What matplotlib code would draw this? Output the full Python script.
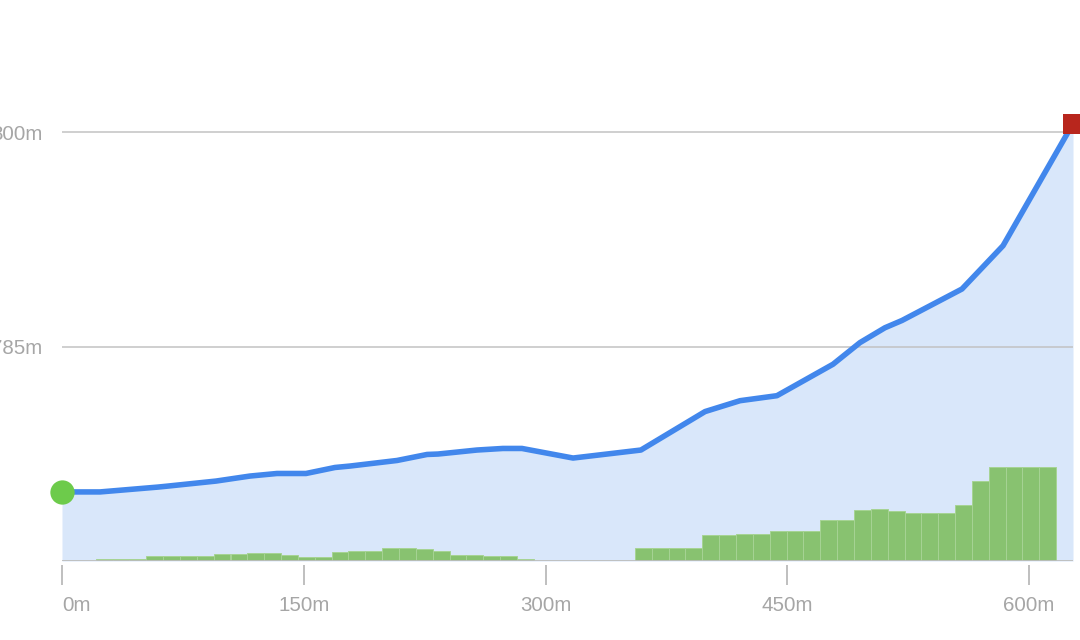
import matplotlib
matplotlib.use("Agg")
import matplotlib.pyplot as plt
import numpy as np

# ---- data ----
dist_m = [0, 23.6, 59.6, 65.8, 95.6, 116.6, 133.4, 151.4, 169.4, 178.7, 207.9,
          226.5, 233.3, 257.5, 273.6, 285.4, 317.1, 359.2, 399.0, 420.7, 443.6,
          478.4, 495.1, 510.6, 521.2, 558.4, 583.9, 627.3]
elev_m = [774.83, 774.83, 775.17, 775.24, 775.59, 775.94, 776.12, 776.12, 776.54,
          776.64, 777.03, 777.45, 777.48, 777.76, 777.87, 777.87, 777.20, 777.76,
          780.45, 781.21, 781.56, 783.76, 785.27, 786.31, 786.82, 789.02, 792.05,
          800.59]
grade = [0, 0, 0.4, 0.4, 0.4, 1.1, 1.1, 1.1, 1.1, 1.4, 1.4, 1.6, 1.6, 1.3, 0.8,
         0.8, 1.8, 2.0, 2.0, 2.6, 2.6, 2.4, 2.0, 1.2, 1.2, 1.0, 1.0, 0.4,
         0, 0, 0, 0, 0, 0,
         2.6, 2.6, 2.6, 2.6, 5.2, 5.2, 5.5, 5.5, 6.0, 6.0, 6.0, 8.2, 8.2, 10.2,
         10.4, 10.0, 9.6, 9.6, 9.6, 11.3, 16.0, 18.9, 18.9, 18.9, 18.9, 0]
x_ticks = [0, 150, 300, 450, 600]
x_tick_labels = ["0m", "150m", "300m", "450m", "600m"]
y_ticks = [785, 800]
y_tick_labels = ["785m", "800m"]
y_base = 770

# ---- style ----
plt.rcParams['font.family'] = ['Liberation Sans', 'DejaVu Sans']
LINE = '#4287ec'
FILL = '#d9e7fa'
BAR = '#88c270'
GRID = '#c2c2c2'
TXT = '#a6a6a6'

W, H = 1080, 640
fig = plt.figure(figsize=(W / 100, H / 100), dpi=100)
ax = fig.add_axes([62 / W, 79 / H, 1011 / W, 561 / H])
ax2 = ax.twinx()
ax.set_zorder(2)
ax2.set_zorder(1)
ax.patch.set_visible(False)

total = dist_m[-1]
ax.set_xlim(0, total)
ax.set_ylim(y_base, y_base + 561 / 14.3)

# grade bars on a secondary (hidden) axis
nb = len(grade)
bw = total / nb
centers = [bw * (i + 0.5) for i in range(nb)]
ax2.bar(centers, grade, width=bw, color=BAR, edgecolor='#a6d394', linewidth=0.7,
        zorder=3)
ax2.set_ylim(0, 561 / 5)
ax2.set_xlim(0, total)
ax2.axis('off')

# area fill + gridlines behind the bars
ax2.fill_between(dist_m, [(e - y_base) * 14.3 / 5 for e in elev_m], 0,
                 color=FILL, linewidth=0, zorder=1)
for y in y_ticks:
    ax2.axhline((y - y_base) * 14.3 / 5, color=GRID, lw=1.1, zorder=2)

ax.plot(dist_m, elev_m, color=LINE, lw=4.0, solid_joinstyle='round', zorder=4)
ax.axhline(y_base, color='#bdbdbd', lw=1.3, zorder=5)
ax.plot([dist_m[0]], [elev_m[0]], 'o', color='#6dcb4b', markersize=17.5,
        markeredgewidth=0, clip_on=False, zorder=6)
ax.plot([dist_m[-1]], [elev_m[-1]], 's', color='#b8261d', markersize=13.7,
        markeredgewidth=0, clip_on=False, zorder=6)

for s in ax.spines.values():
    s.set_visible(False)
ax.spines['bottom'].set_position(('outward', 3))

ax.set_xticks(x_ticks, x_tick_labels)
ax.set_yticks(y_ticks, y_tick_labels)
ax.tick_params(axis='x', length=14.4, width=1.2, color='#b4b4b4', labelsize=14.8,
               labelcolor=TXT, pad=7.5)
ax.tick_params(axis='y', length=0, labelsize=14.8, labelcolor=TXT, pad=14.4)
ax.get_xticklabels()[0].set_horizontalalignment('left')

fig.savefig('out.png', dpi=100)
